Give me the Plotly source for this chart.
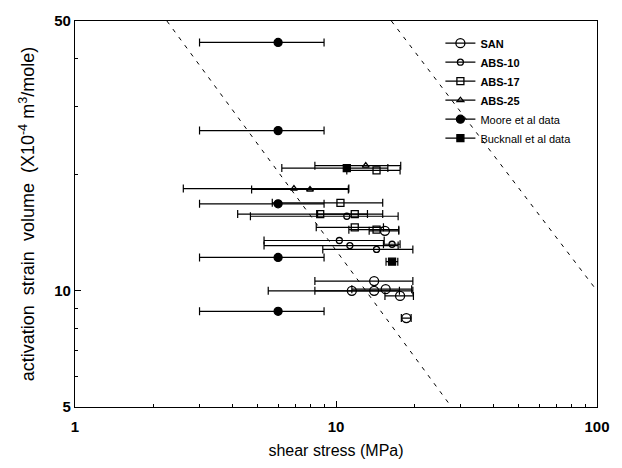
import plotly.graph_objects as go

# ---- data ----
san_x = [14.0, 11.5, 14.0, 15.5, 17.6, 18.6, 15.4]
san_y = [10.6, 10.0, 10.0, 10.1, 9.7, 8.5, 14.3]
san_err = [5.7, 6.0, 5.7, 4.0, 2.2, 0.8, 2.0]

abs10_x = [11.0, 10.3, 11.3, 14.3, 16.4]
abs10_y = [15.6, 13.5, 13.1, 12.8, 13.2]
abs10_err = [6.3, 5.0, 6.0, 5.4, 1.2]

abs17_x = [14.3, 10.4, 8.7, 11.8, 11.8, 14.3]
abs17_y = [20.5, 16.9, 15.8, 15.8, 14.6, 14.4]
abs17_err = [3.3, 4.7, 4.5, 3.3, 3.4, 3.1]

abs25_x = [13.0, 6.9, 7.95]
abs25_y = [21.1, 18.4, 18.3]
abs25_err = [4.7, 4.3, 3.2]

moore_x = [6, 6, 6, 6, 6]
moore_y = [44, 26, 16.8, 12.2, 8.85]
moore_err = [3, 3, 3, 3, 3]

bucknall_x = [11.0, 16.4]
bucknall_y = [20.8, 11.9]
bucknall_err = [4.8, 0.85]

guide1_x = [2.25, 27.7]
guide1_y = [50, 5]
guide2_x = [16.3, 100]
guide2_y = [50, 10.0]

x_ticks = [1, 10, 100]
y_ticks = [5, 10, 50]
x_minor = [2, 3, 4, 5, 6, 7, 8, 9, 20, 30, 40, 50, 60, 70, 80, 90]
y_minor = [6, 7, 8, 9, 20, 30, 40]

FONT = "Liberation Sans, Arial, Helvetica, sans-serif"

series = [
    ("<b>SAN</b>", san_x, san_y, san_err, "circle-open", 9),
    ("<b>ABS-10</b>", abs10_x, abs10_y, abs10_err, "circle-open", 6),
    ("<b>ABS-17</b>", abs17_x, abs17_y, abs17_err, "square-open", 7),
    ("<b>ABS-25</b>", abs25_x, abs25_y, abs25_err, "triangle-up-open", 6),
    ("Moore et al data", moore_x, moore_y, moore_err, "circle", 8),
    ("Bucknall et al data", bucknall_x, bucknall_y, bucknall_err, "square", 7),
]

fig = go.Figure()

for gx, gy in [(guide1_x, guide1_y), (guide2_x, guide2_y)]:
    fig.add_trace(go.Scatter(x=gx, y=gy, mode="lines", showlegend=False,
                             line=dict(color="black", width=1, dash="4px,6px"),
                             hoverinfo="skip"))

for name, xs, ys, errs, sym, sz in series:
    fig.add_trace(go.Scatter(
        x=xs, y=ys, mode="markers", name=name, showlegend=False,
        marker=dict(symbol=sym, size=sz, color="black",
                    line=dict(color="black", width=1.3)),
        error_x=dict(type="data", array=errs, symmetric=True,
                     color="black", thickness=1.2, width=4),
    ))

# legend-only entries shown as "-o-"
for name, xs, ys, errs, sym, sz in series:
    fig.add_trace(go.Scatter(
        x=[None], y=[None], mode="lines+markers", name=name,
        marker=dict(symbol=sym, size=sz, color="black",
                    line=dict(color="black", width=1.3)),
        line=dict(color="black", width=1.2),
    ))

axis_common = dict(
    type="log", showgrid=False, zeroline=False,
    showline=True, linecolor="black", linewidth=1.2, mirror=True,
    ticks="inside", ticklen=6, tickcolor="black",
    tickfont=dict(family=FONT, size=15, color="black"),
)

fig.update_xaxes(
    **axis_common, range=[0, 2], tickvals=x_ticks, ticktext=["<b>%s</b>" % v for v in x_ticks],
    ticklabelstandoff=6,
    minor=dict(ticks="inside", ticklen=3, tickcolor="black", tickvals=x_minor),
    title=dict(text="shear stress (MPa)", font=dict(family=FONT, size=16, color="black"),
               standoff=10),
)
fig.update_yaxes(
    **axis_common, range=[0.69897, 1.69897], tickvals=y_ticks, ticktext=["<b>%s</b>" % v for v in y_ticks],
    minor=dict(ticks="inside", ticklen=3, tickcolor="black", tickvals=y_minor),
    title=dict(text="activation  strain  volume  (X10<sup>-4</sup> m<sup>3</sup>/mole)",
               font=dict(family=FONT, size=18, color="black"), standoff=14),
)

fig.update_layout(
    width=622, height=468,
    margin=dict(l=75, r=20, t=19, b=58),
    paper_bgcolor="white", plot_bgcolor="white",
    font=dict(family=FONT, color="black"),
    legend=dict(x=0.70, y=0.98, xanchor="left", yanchor="top",
                bgcolor="rgba(0,0,0,0)", borderwidth=0,
                font=dict(family=FONT, size=11, color="black"),
                itemwidth=30, tracegroupgap=0),
)

fig.write_html("out.html")
